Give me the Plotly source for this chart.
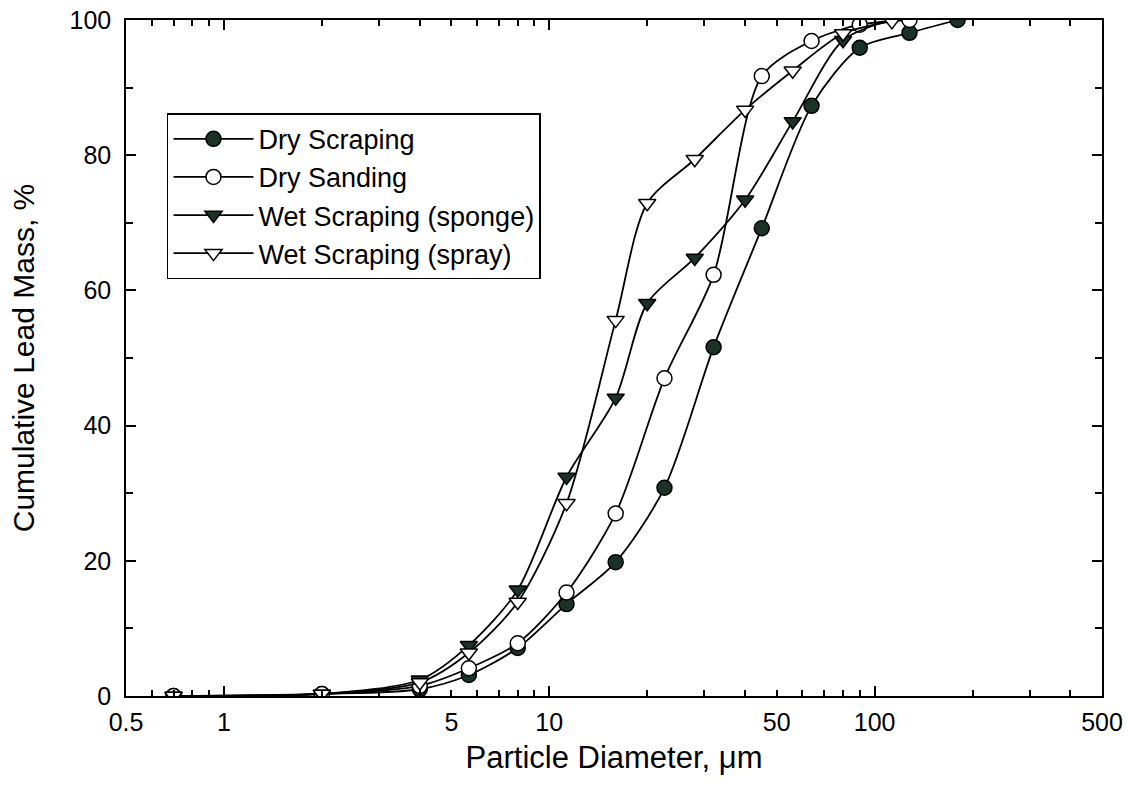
import math
import plotly.graph_objects as go

# ---- data ----
dry_scraping_x = [0.7, 2, 4, 5.66, 8, 11.3, 16, 22.6, 32, 45, 64, 90, 128, 180]
dry_scraping_y = [0, 0.3, 1.0, 3.1, 7.1, 13.6, 19.8, 30.8, 51.6, 69.2, 87.3, 95.9, 98.1, 100]

dry_sanding_x = [0.7, 2, 4, 5.66, 8, 11.3, 16, 22.6, 32, 45, 64, 90, 128]
dry_sanding_y = [0, 0.3, 1.5, 4.1, 7.8, 15.3, 27.0, 47.0, 62.3, 91.7, 96.9, 99.3, 100]

wet_sponge_x = [0.7, 2, 4, 5.66, 8, 11.3, 16, 20, 28, 40, 56, 80, 113]
wet_sponge_y = [0, 0.3, 2.4, 7.5, 15.7, 32.4, 44.1, 58.1, 64.8, 73.4, 85.0, 97.0, 100]

wet_spray_x = [0.7, 2, 4, 5.66, 8, 11.3, 16, 20, 28, 40, 56, 80, 113]
wet_spray_y = [0, 0.3, 2.0, 6.4, 13.9, 28.5, 55.6, 72.9, 79.4, 86.7, 92.5, 98.0, 99.8]

x_tickvals = [0.5, 1, 5, 10, 50, 100, 500]
x_ticktext = ["0.5", "1", "5", "10", "50", "100", "500"]
x_minorvals = [0.6, 0.7, 0.8, 0.9, 2, 3, 4, 6, 7, 8, 9, 20, 30, 40, 60, 70, 80, 90, 200, 300, 400]
x_longvals = [1, 10, 100]
y_tickvals = [0, 20, 40, 60, 80, 100]
y_minorvals = [10, 30, 50, 70, 90]

FONT = "Liberation Sans, Arial, sans-serif"
DARK = "#1b3327"

series = [
    ("Dry Scraping", dry_scraping_x, dry_scraping_y, "circle", DARK, 15),
    ("Dry Sanding", dry_sanding_x, dry_sanding_y, "circle", "white", 15),
    ("Wet Scraping (sponge)", wet_sponge_x, wet_sponge_y, "triangle-down", DARK, 15),
    ("Wet Scraping (spray)", wet_spray_x, wet_spray_y, "triangle-down", "white", 15),
]

fig = go.Figure()
for name, xs, ys, sym, fill, sz in series:
    fig.add_trace(go.Scatter(
        x=xs, y=ys, name=name, mode="lines+markers",
        line=dict(color="black", width=1.8, shape="spline", smoothing=0.8),
        marker=dict(symbol=sym, size=sz, color=fill, line=dict(color="black", width=1.5)),
    ))

# invisible trace to carry the overlay axis with long decade ticks
fig.add_trace(go.Scatter(x=x_longvals, y=[None]*len(x_longvals), xaxis="x2",
                         showlegend=False, hoverinfo="skip", mode="markers"))

xr = [math.log10(0.5), math.log10(500)]

fig.update_layout(
    width=1130, height=808,
    margin=dict(l=126, r=28, t=20, b=112, autoexpand=False),
    paper_bgcolor="white", plot_bgcolor="white",
    font=dict(family=FONT, color="black"),
    showlegend=True,
    legend=dict(
        x=0.042, y=0.862, xanchor="left", yanchor="top",
        bordercolor="black", borderwidth=1.5, bgcolor="white",
        font=dict(family=FONT, size=27, color="black"),
        itemwidth=80, tracegroupgap=0,
    ),
    xaxis=dict(
        type="log", range=xr, automargin=False,
        showline=True, linecolor="black", linewidth=1.5, mirror="ticks",
        ticks="inside", ticklen=6, tickwidth=1.5, tickcolor="black",
        tickmode="array", tickvals=x_tickvals, ticktext=x_ticktext,
        tickfont=dict(family=FONT, size=25, color="black"),
        ticklabelstandoff=3,
        minor=dict(ticks="inside", tickmode="array", tickvals=x_minorvals,
                   ticklen=6, tickwidth=1.5, tickcolor="black", showgrid=False),
        showgrid=False, zeroline=False,
        title=dict(text="Particle Diameter, μm", font=dict(family=FONT, size=31, color="black"), standoff=12),
    ),
    xaxis2=dict(
        type="log", range=xr, overlaying="x", anchor="y", side="bottom", automargin=False,
        showline=False, mirror="ticks",
        ticks="inside", ticklen=10, tickwidth=1.5, tickcolor="black",
        tickmode="array", tickvals=x_longvals, showticklabels=False,
        showgrid=False, zeroline=False,
    ),
    yaxis=dict(
        range=[0, 100], automargin=False,
        showline=True, linecolor="black", linewidth=1.5, mirror="ticks",
        ticks="inside", ticklen=10, tickwidth=1.5, tickcolor="black",
        tickmode="array", tickvals=y_tickvals,
        tickfont=dict(family=FONT, size=25, color="black"),
        ticklabelstandoff=8,
        minor=dict(ticks="inside", tickmode="array", tickvals=y_minorvals,
                   ticklen=7, tickwidth=1.5, tickcolor="black", showgrid=False),
        showgrid=False, zeroline=False,
        title=dict(text="Cumulative Lead Mass, %", font=dict(family=FONT, size=30, color="black"), standoff=26),
    ),
)

fig.write_html("out.html")
